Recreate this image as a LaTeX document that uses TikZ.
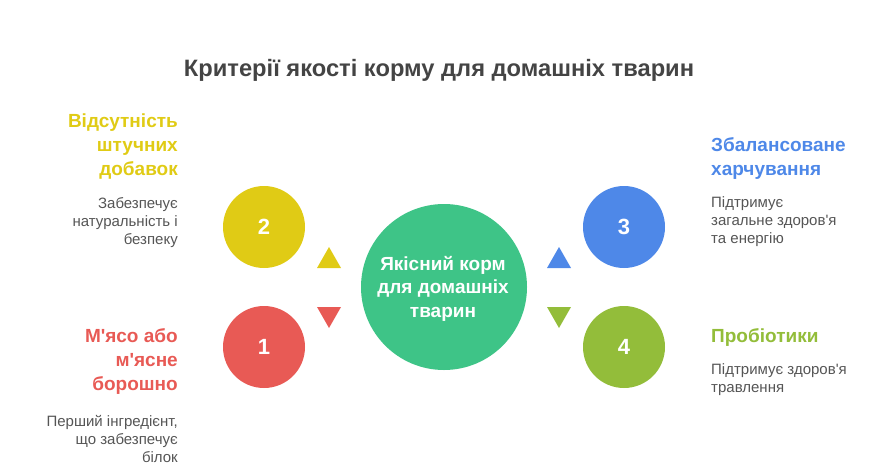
\documentclass[tikz,border=0pt]{standalone}
\usepackage{fontspec}
\setmainfont{Liberation Sans}[Ligatures=TeXOff]
\definecolor{cgreen}{HTML}{3EC487}
\definecolor{cyellow}{HTML}{E0CB15}
\definecolor{cred}{HTML}{E85A55}
\definecolor{cblue}{HTML}{4E88E8}
\definecolor{colive}{HTML}{93BD3A}
\definecolor{ctitle}{HTML}{444444}
\definecolor{cdesc}{HTML}{555555}
\begin{document}
\begin{tikzpicture}[x=1pt,y=-1pt,
  disc/.style={circle,minimum size=82pt,inner sep=0pt,text=white,font=\bfseries\fontsize{22}{26}\selectfont},
  head/.style={inner sep=0pt,font=\bfseries\fontsize{19}{24}\selectfont},
  desc/.style={inner sep=0pt,text=cdesc,font=\fontsize{15}{17.6}\selectfont}]
\useasboundingbox (0,0) rectangle (888,469);
\node[inner sep=0pt,anchor=base,text=ctitle,font=\bfseries\fontsize{23.7}{28}\selectfont] (title) at (439,76) {Критерії якості корму для домашніх тварин};
\node[circle,fill=cgreen,minimum size=166pt,inner sep=0pt] (center) at (444,287) {};
\node[inner sep=0pt,align=center,text=white,font=\bfseries\fontsize{19}{23.5}\selectfont,anchor=base] (ctext) at (443,317) {Якісний корм\\для домашніх\\тварин};
\node[disc,fill=cyellow] (c2) at (264,227) {2};
\node[disc,fill=cred] (c1) at (264,347) {1};
\node[disc,fill=cblue] (c3) at (624,227) {3};
\node[disc,fill=colive] (c4) at (624,347) {4};
% triangles
\fill[cyellow] (317,268) -- (341,268) -- (329,247) -- cycle;
\fill[cred] (317,307) -- (341,307) -- (329,328) -- cycle;
\fill[cblue] (547,268) -- (571,268) -- (559,247) -- cycle;
\fill[colive] (547,307) -- (571,307) -- (559,328) -- cycle;
% left texts
\node[head,text=cyellow,align=right,anchor=base east] (h2) at (178,175) {Відсутність\\штучних\\добавок};
\node[desc,align=right,anchor=base east] (d2) at (178,244) {Забезпечує\\натуральність і\\безпеку};
\node[head,text=cred,align=right,anchor=base east] (h1) at (178,390) {М'ясо або\\м'ясне\\борошно};
\node[desc,align=right,anchor=base east] (d1) at (178,462) {Перший інгредієнт,\\що забезпечує\\білок};
% right texts
\node[head,text=cblue,align=left,anchor=base west] (h3) at (711,175) {Збалансоване\\харчування};
\node[desc,align=left,anchor=base west] (d3) at (711,243) {Підтримує\\загальне здоров'я\\та енергію};
\node[head,text=colive,align=left,anchor=base west] (h4) at (711,342) {Пробіотики};
\node[desc,align=left,anchor=base west] (d4) at (711,392) {Підтримує здоров'я\\травлення};
\end{tikzpicture}
\end{document}
